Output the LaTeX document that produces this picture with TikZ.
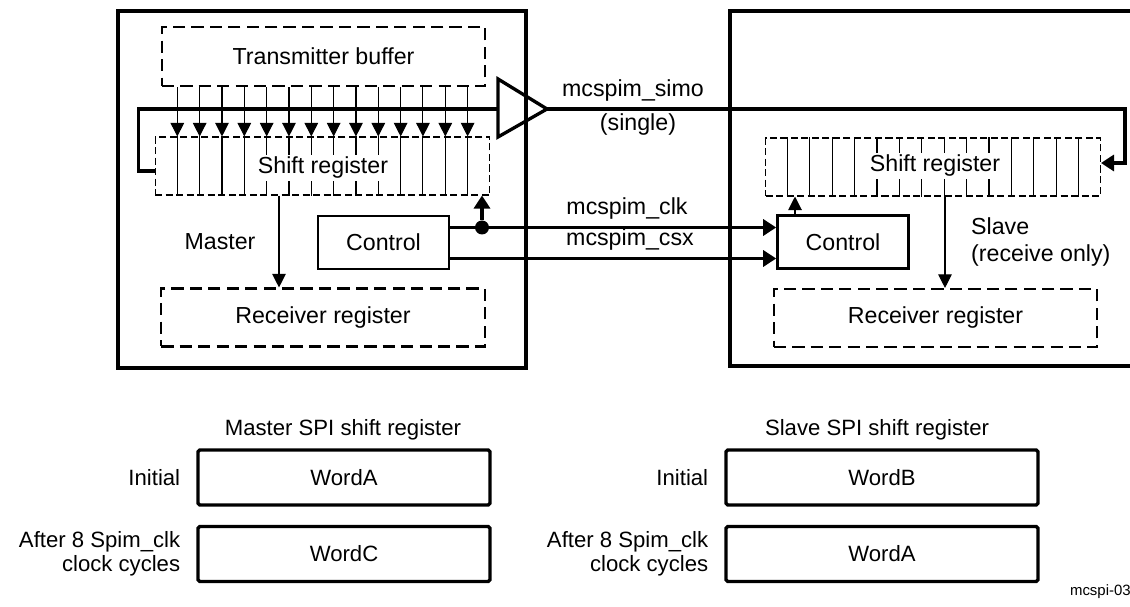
\documentclass[tikz,border=0pt]{standalone}
\usepackage{fontspec}
\setmainfont{Liberation Sans}
\usetikzlibrary{arrows.meta,positioning,calc}
\tikzset{
  >={Triangle[length=0.27cm,width=0.27cm]},
  frame/.style   ={line width=2.2pt},
  bus/.style     ={line width=1.9pt,>={Triangle[length=0.26cm,width=0.32cm]}},
  sig/.style     ={->,line width=0.6pt},
  dashreg/.style ={rectangle,draw,line width=1.2pt,dash pattern=on 7pt off 3.5pt,minimum width=6.47cm,minimum height=1.16cm,inner sep=0pt},
  shiftreg/.style={rectangle,draw,line width=0.6pt,dash pattern=on 4pt off 2pt,minimum width=6.7cm,minimum height=1.16cm,inner sep=0pt},
  cell/.style    ={line width=0.6pt},
  ctrl/.style    ={rectangle,draw,line width=1.5pt,minimum width=2.62cm,minimum height=1.06cm},
  word/.style    ={rectangle,draw,line width=1.9pt,rounded corners=1pt,minimum height=1.1cm},
  dot/.style     ={circle,fill,inner sep=0pt,minimum size=0.28cm},
}

\begin{document}
\begin{tikzpicture}[x=0.02cm,y=-0.02cm,font=\fontsize{13.2}{15.3}\selectfont]
  \useasboundingbox (0,0) rectangle (1130,607);

  % ---- MASTER ----
  \draw[frame] (118,11) rectangle (526,368);
  \node[dashreg,minimum height=1.18cm] (txbuf) at (323.5,56.5) {Transmitter buffer};
  \node[shiftreg] (msr) at (322.5,166) {};
  \node[dashreg] (mrx) at (323,317.5) {Receiver register};
  \node[ctrl] (mctl) at (383.5,242.5) {Control};
  \node (mlbl) at (220,242) {Master};
  \foreach \i in {1,...,14} {
    \coordinate (mc\i) at (155+22.33*\i,166);
    \draw[cell] (msr.north -| mc\i) -- (msr.south -| mc\i);
    \draw[sig] (txbuf.south -| mc\i) -- (msr.north -| mc\i);
  }
  \node[fill=white,inner sep=1pt] (mshtxt) at (323,168) {Shift register};
  \coordinate (mtap) at (279,0);
  \draw[sig] (msr.south -| mtap) -- (mrx.north -| mtap);

  % output buffer
  \coordinate (bufin) at (498,109);
  \coordinate (bufout) at (547,109);
  \draw[bus] (498,79) -- (bufout) -- (498,137) -- cycle;
  \coordinate (mout) at ($(msr.west)+(0,5)$);
  \draw[bus] (mout) -- ++(-16,0) |- (bufin);

  % ---- SLAVE ----
  \draw[frame] (1135,11) -- (730,11) -- (730,366) -- (1135,366);
  \node[shiftreg] (ssr) at (933,167) {};
  \foreach \i in {1,...,14} {
    \coordinate (sc\i) at (765+22.4*\i,167);
    \draw[cell] (ssr.north -| sc\i) -- (ssr.south -| sc\i);
  }
  \node[fill=white,inner sep=1pt] (sshtxt) at (935,166) {Shift register};
  \node[dashreg] (srx) at (935.5,318) {Receiver register};
  \node[ctrl] (sctl) at (843,242) {Control};
  \node[anchor=west,align=left] (slbl) at (965,242) {Slave\\(receive only)};
  \coordinate (sin) at ($(ssr.east)+(0,-4)$);
  \coordinate (sturn) at (1125,109);
  \draw[bus,->] (bufout) -- (sturn) |- (sin);
  \coordinate (stap) at (945,0);
  \draw[sig] (ssr.south -| stap) -- (srx.north -| stap);
  \coordinate (sctap) at (795,0);
  \draw[sig] (sctl.north -| sctap) -- (ssr.south -| sctap);

  % ---- clk / csx ----
  \coordinate (clk0) at ($(mctl.east)+(0,-15)$);
  \coordinate (csx0) at ($(mctl.east)+(0,16)$);
  \draw[bus,->] (clk0) -- (clk0 -| sctl.west);
  \draw[bus,->] (csx0) -- (csx0 -| sctl.west);
  \coordinate (dtap) at (482,0);
  \node[dot] (clkdot) at (clk0 -| dtap) {};
  \draw[bus,->] (clkdot) -- (clkdot |- msr.south);

  \node (simo) at (633,91) {mcspim\_simo};
  \node (single) at (638,125) {(single)};
  \node (clk) at (627,209) {mcspim\_clk};
  \node (csx) at (630,240) {mcspim\_csx};

  % ---- shift register contents ----
  \begin{scope}[font=\fontsize{12.6}{13.8}\selectfont]
    \node[word,minimum width=5.84cm] (mwa) at (344,477.5) {WordA};
    \node[word,minimum width=5.84cm] (mwc) at (344,554) {WordC};
    \node (mtitle) at (343,430) {Master SPI shift register};
    \node[left=0.2cm of mwa] (minit) {Initial};
    \node[left=0.2cm of mwc,align=right] (mafter) {After 8 Spim\_clk\\clock cycles};

    \node[word,minimum width=6.24cm] (swb) at (882,477.5) {WordB};
    \node[word,minimum width=6.24cm] (swa) at (882,554) {WordA};
    \node (stitle) at (877,430) {Slave SPI shift register};
    \node[left=0.2cm of swb] (sinit) {Initial};
    \node[left=0.2cm of swa,align=right] (safter) {After 8 Spim\_clk\\clock cycles};
  \end{scope}

  \node[anchor=east,inner sep=0pt,font=\fontsize{8.5}{10}\selectfont] (figid) at (1131,592) {mcspi-03};
\end{tikzpicture}
\end{document}
